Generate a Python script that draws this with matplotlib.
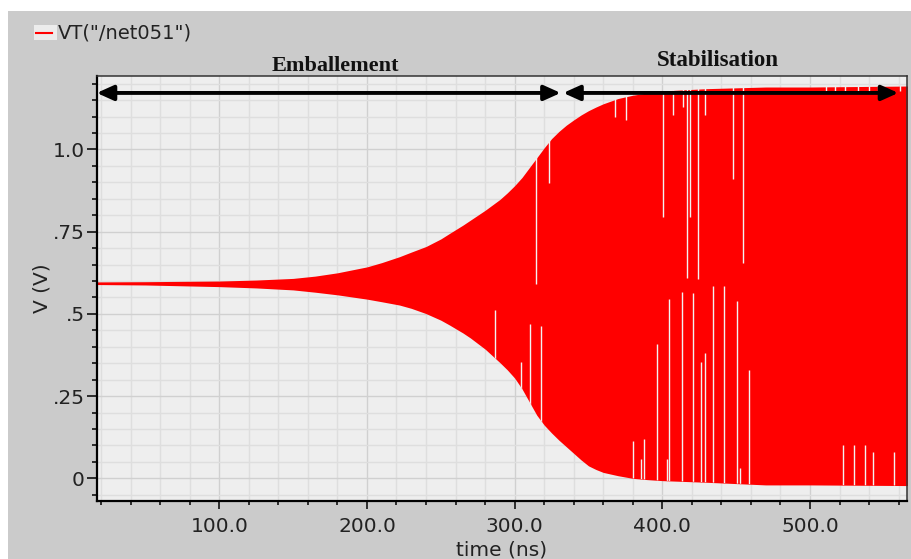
import matplotlib.pyplot as plt
from matplotlib.patches import Rectangle, FancyArrowPatch
from matplotlib.lines import Line2D


# envelope of VT("/net051") (time in ns, volts)
t_env = [0, 50, 100, 125, 150, 165, 180, 200, 210, 222, 230, 240, 250, 256,
         265, 270, 280, 290, 295, 300, 305, 310, 315, 320, 325, 330, 335,
         340, 345, 350, 355, 360, 370, 380, 390, 400, 430, 470, 500, 566]
v_upper = [0.597, 0.598, 0.600, 0.603, 0.608, 0.615, 0.625, 0.643, 0.656,
           0.674, 0.688, 0.705, 0.728, 0.745, 0.770, 0.785, 0.815, 0.848,
           0.868, 0.890, 0.915, 0.945, 0.975, 1.005, 1.033, 1.055, 1.074,
           1.090, 1.105, 1.118, 1.129, 1.139, 1.155, 1.165, 1.172, 1.178,
           1.185, 1.190, 1.190, 1.193]
v_lower = [0.590, 0.588, 0.583, 0.579, 0.573, 0.566, 0.558, 0.545, 0.537,
           0.527, 0.517, 0.501, 0.481, 0.466, 0.442, 0.427, 0.393, 0.352,
           0.330, 0.305, 0.272, 0.232, 0.192, 0.162, 0.138, 0.116, 0.096,
           0.076, 0.056, 0.038, 0.027, 0.018, 0.008, 0.000, -0.004, -0.007,
           -0.012, -0.020, -0.020, -0.022]

# missed samples showing as light streaks inside the red band
gap_top_t = [314.5, 323.3, 367.9, 375.4, 400.4, 407.0, 414.0, 416.5, 418.7,
             424.0, 428.9, 448.0, 454.8, 510.6, 516.9, 523.7, 532.5, 539.9,
             546.0, 560.9]
gap_top_v = [0.591, 0.899, 1.100, 1.090, 0.796, 1.105, 1.130, 0.609, 0.796,
             0.607, 1.105, 0.909, 0.656, 1.178, 1.178, 1.178, 1.178, 1.178,
             1.178, 1.178]
gap_bot_t = [286.7, 304.1, 310.4, 318.0, 380.3, 385.6, 387.8, 396.4, 403.0,
             404.7, 413.3, 420.6, 426.0, 429.1, 434.5, 442.0, 450.4, 452.4,
             458.7, 522.1, 529.8, 537.3, 542.4, 557.1]
gap_bot_v = [0.512, 0.355, 0.469, 0.463, 0.114, 0.058, 0.120, 0.410, 0.058,
             0.544, 0.568, 0.563, 0.354, 0.382, 0.584, 0.584, 0.539, 0.030,
             0.329, 0.101, 0.101, 0.101, 0.079, 0.079]

x_ticks = [100, 200, 300, 400, 500]
x_labels = ['100.0', '200.0', '300.0', '400.0', '500.0']
y_ticks = [0, 0.25, 0.5, 0.75, 1.0]
y_labels = ['0', '.25', '.5', '.75', '1.0']

W, H = 911, 559


def fpos(x, y):
    # pixel position (from top-left) -> figure fraction
    return x / W, 1 - y / H


def main():
    fig = plt.figure(figsize=(W / 100, H / 100), dpi=100)
    fig.patch.set_facecolor('white')
    fig.patches.append(Rectangle((8 / W, 0), (W - 8) / W, (H - 11) / H,
                                 transform=fig.transFigure,
                                 facecolor='#cbcbcb', edgecolor='none',
                                 zorder=-10))

    ax = fig.add_axes([96.5 / W, 1 - 500.7 / H, 810.8 / W, 424.7 / H])
    ax.set_facecolor('#eeeeee')
    ax.set_xlim(16.85, 565.9)
    ax.set_ylim(-0.068, 1.2235)

    band = ax.fill_between(t_env, v_lower, v_upper, color='#ff0000',
                           lw=0, zorder=2)
    clip = band.get_paths()[0]
    g1 = ax.vlines(gap_top_t, gap_top_v, 1.3, color='#f2f2f2', lw=1.0,
                   zorder=3)
    g2 = ax.vlines(gap_bot_t, -0.1, gap_bot_v, color='#f2f2f2', lw=1.0,
                   zorder=3)
    for g in (g1, g2):
        g.set_clip_path(clip, ax.transData)

    # ticks and grid
    ax.set_xticks(x_ticks, x_labels)
    ax.set_yticks(y_ticks, y_labels)
    ax.set_xticks([t for t in range(20, 566, 20) if t % 100], minor=True)
    ax.set_yticks([i * 0.05 for i in range(-1, 25) if i % 5], minor=True)
    ax.grid(which='minor', color='#dedede', lw=1.0, zorder=1)
    ax.grid(which='major', color='#d0d0d0', lw=1.0, zorder=1)
    ax.set_axisbelow(True)

    ax.tick_params(axis='x', which='major', direction='out', length=6,
                   width=1.1, pad=6, labelsize=14.5, labelcolor='#222222')
    ax.tick_params(axis='x', which='minor', direction='out', length=3,
                   width=1.1)
    ax.tick_params(axis='y', which='major', direction='out', length=7,
                   width=1.1, pad=1.5, labelsize=14.5, labelcolor='#222222')
    ax.tick_params(axis='y', which='minor', direction='out', length=3.6,
                   width=1.1)

    for s in ('left', 'bottom'):
        ax.spines[s].set_linewidth(1.6)
        ax.spines[s].set_color('black')
    for s in ('top', 'right'):
        ax.spines[s].set_linewidth(1.1)
        ax.spines[s].set_color('#333333')

    ax.set_xlabel('time (ns)', fontsize=14.5, color='#222222', labelpad=3)
    ax.set_ylabel('V (V)', fontsize=14.5, color='#222222', labelpad=0.5)

    # phase arrows
    for a, b in [(17.0, 331.2), (332.9, 559.8)]:
        arr = FancyArrowPatch((a, 1.172), (b, 1.172),
                              arrowstyle='<|-|>,head_length=1.0,head_width=0.45',
                              mutation_scale=10, lw=2.8, color='black',
                              shrinkA=0, shrinkB=0, zorder=5, clip_on=False)
        ax.add_patch(arr)

    ax.text(178.3, 1.239, 'Emballement', ha='center', va='baseline',
            fontsize=16, fontweight='bold', family='Liberation Serif',
            color='#111111')
    ax.text(437.5, 1.254, 'Stabilisation', ha='center', va='baseline',
            fontsize=16.5, fontweight='bold', family='Liberation Serif',
            color='#111111')

    # legend in the header
    x0, y0 = fpos(34, 40)
    fig.patches.append(Rectangle((x0, y0), 23 / W, 15 / H,
                                 transform=fig.transFigure,
                                 facecolor='#ececec', edgecolor='none',
                                 zorder=1))
    lx0, ly = fpos(36, 32.5)
    lx1, _ = fpos(52, 32.5)
    fig.lines.append(Line2D([lx0, lx1], [ly, ly], transform=fig.transFigure,
                            color='#ff0000', lw=1.5, zorder=2))
    tx, ty = fpos(58, 33)
    fig.text(tx, ty, 'VT("/net051")', va='center', ha='left', fontsize=14,
             color='#222222')

    fig.savefig('out.png', dpi=100, facecolor=fig.get_facecolor())


if __name__ == "__main__":
    main()
